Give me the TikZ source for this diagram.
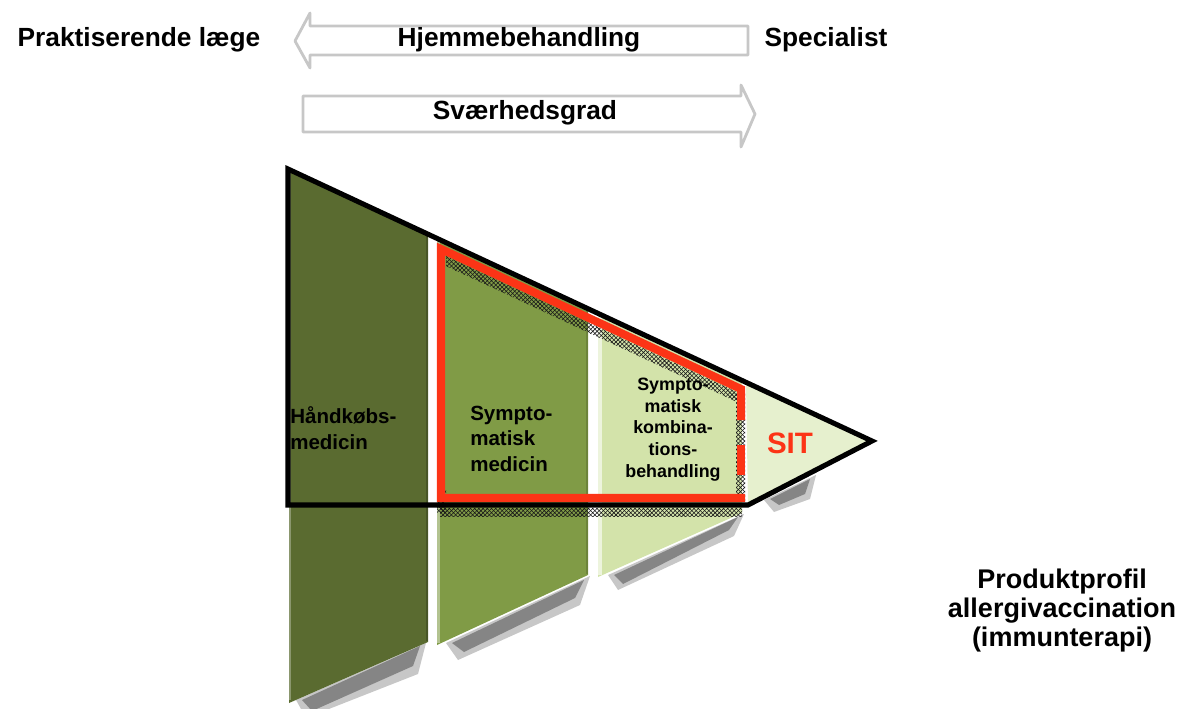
\documentclass[tikz,border=0pt]{standalone}
\usepackage{fontspec}
\setmainfont{Liberation Sans}
\usetikzlibrary{patterns}

\definecolor{darkolive}{RGB}{90,107,48}
\definecolor{midolive}{RGB}{128,155,70}
\definecolor{lightolive}{RGB}{211,227,170}
\definecolor{paleolive}{RGB}{230,240,206}
\definecolor{sitred}{RGB}{252,52,22}

\tikzset{
  toplabel/.style={inner sep=0pt, anchor=base, font=\bfseries\fontsize{18.7}{22}\selectfont},
  barlabel/.style={inner sep=0pt, anchor=base west, align=left, font=\bfseries\fontsize{14.6}{17.8}\selectfont},
  bararrow/.style={draw=black!22, line width=2pt, fill=white, line join=round},
  softshadow/.style={fill=black!22},
  shadowband/.style={fill=black!48},
  hatchband/.style={pattern=crosshatch, pattern color=black!90},
}

\begin{document}
\begin{tikzpicture}[x=0.025cm,y=-0.025cm]
\useasboundingbox (0,0) rectangle (1178,709);

% arrows on top
\draw[bararrow] (748,26) -- (310,26) -- (310,13) -- (295,41) -- (310,68) -- (310,55) -- (748,55) -- cycle;
\draw[bararrow] (303,96) -- (741,96) -- (741,85) -- (755,114) -- (741,147) -- (741,132) -- (303,132) -- cycle;
\node[toplabel] (prakt) at (139,47) {Praktiserende læge};
\node[toplabel] (hjem) at (519,47) {Hjemmebehandling};
\node[toplabel] (spec) at (826,47) {Specialist};
\node[toplabel] (svaer) at (525,120) {Sværhedsgrad};

% shadows
\fill[softshadow] (296,700) -- (426,643) -- (418,674) -- (306,718) -- cycle;
\fill[softshadow] (446,643) -- (590,576) -- (580,605) -- (458,660) -- cycle;
\fill[softshadow] (608,575) -- (744,514) -- (734,536) -- (618,590) -- cycle;
\fill[softshadow] (764,500) -- (816,475) -- (810,499) -- (774,512) -- cycle;
\fill[shadowband] (302,700) -- (420,646) -- (413,666) -- (312,711) -- cycle;
\fill[shadowband] (452,643) -- (584,580) -- (575,598) -- (464,652) -- cycle;
\fill[shadowband] (614,575) -- (738,517) -- (729,530) -- (623,584) -- cycle;
\fill[shadowband] (770,499) -- (810,479) -- (805,494) -- (779,505) -- cycle;

% bars
\fill[darkolive] (289,170) -- (428,234.6) -- (428,642) -- (289,703) -- cycle;
\fill[midolive] (437,238.8) -- (588,309) -- (588,575) -- (437,645) -- cycle;
\fill[lightolive] (598,313.7) -- (742,380.6) -- (742,513) -- (598,577) -- cycle;
\fill[paleolive] (746,382.5) -- (872,441) -- (748,505) -- cycle;
\draw[darkolive!70!white, line width=1.5pt] (290,172) -- (290,700);
\draw[darkolive!80!black, line width=1.5pt] (427,236) -- (427,641);
\draw[midolive!60!white, line width=2pt] (438.5,240) -- (438.5,643);
\draw[midolive!85!black, line width=1.5pt] (587,310) -- (587,574);
\draw[lightolive!40!white, line width=2.5pt] (600,315) -- (600,575);

% hatched bands
\fill[hatchband] (446,256) -- (737,392) -- (737,402) -- (446,266) -- cycle;
\fill[hatchband] (440,508) rectangle (742,516);
\fill[hatchband] (736,392) rectangle (745,500);
\fill[hatchband] (437,490) rectangle (446,512);

% red frame
\draw[sitred, line width=5.7pt, line join=miter] (741,420) -- (741,389) -- (441,249) -- (441,498) -- (745,498);
\draw[sitred, line width=5.7pt] (741,445) -- (741,475);

% black outline
\draw[line width=3.6pt, line join=miter] (288,169) -- (872,441) -- (748,505) -- (288,505) -- cycle;

% texts in the bars (base = last line)
\node[barlabel] (hand) at (290,449) {Håndkøbs-\\medicin};
\node[barlabel] (symp) at (470,471) {Sympto-\\matisk\\medicin};
\node[barlabel, anchor=base, align=center, font=\bfseries\fontsize{12.7}{15.4}\selectfont] (kombi) at (673,477) {Sympto-\\matisk\\kombina-\\tions-\\behandling};
\node[inner sep=0pt, anchor=base, text=sitred, font=\bfseries\fontsize{21}{24}\selectfont] (sit) at (790,453) {SIT};
\node[inner sep=0pt, anchor=base, align=center, font=\bfseries\fontsize{19.2}{20.6}\selectfont] (prod) at (1062,646) {Produktprofil\\allergivaccination\\(immunterapi)};
\end{tikzpicture}
\end{document}
